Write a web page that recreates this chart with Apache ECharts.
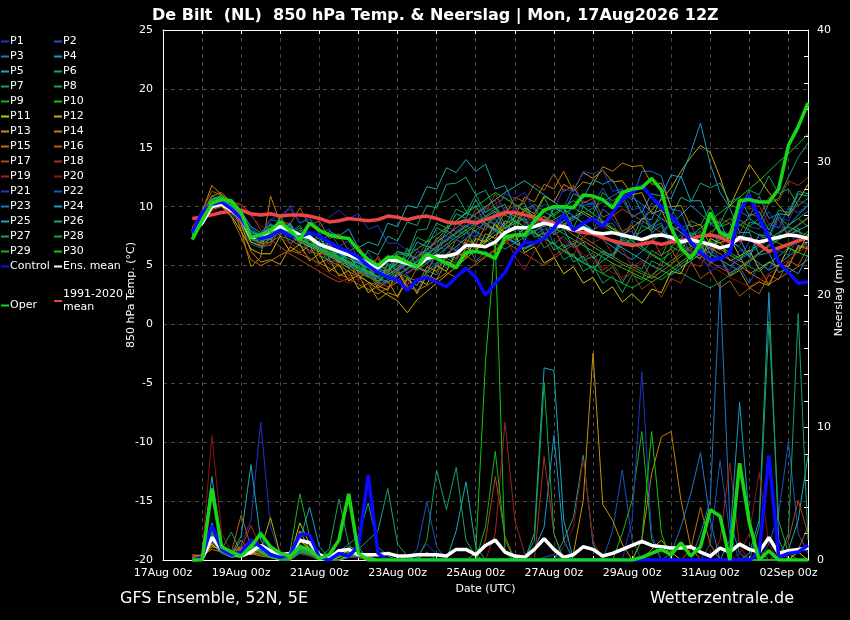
<!DOCTYPE html>
<html><head><meta charset="utf-8">
<script src="https://cdn.jsdelivr.net/npm/echarts@6/dist/echarts.min.js"></script>
<style>html,body{margin:0;padding:0;background:#000;}#c{width:850px;height:620px;}</style>
</head><body><div id="c"></div>
<script>
// ---- tick labels / time axis ----
const dateLabels = ['17Aug 00z','19Aug 00z','21Aug 00z','23Aug 00z','25Aug 00z','27Aug 00z','29Aug 00z','31Aug 00z','02Sep 00z'];
const firstLeadHour = 18;   // first step: 17Aug 18z (hours after 17Aug 00z)
const stepHours = 6;
const memberNames = ['P1','P2','P3','P4','P5','P6','P7','P8','P9','P10','P11','P12','P13','P14','P15','P16','P17','P18','P19','P20','P21','P22','P23','P24','P25','P26','P27','P28','P29','P30'];

// ---- main lines: 850 hPa temperature (°C) ----
const tOper = [7.2,8.8,10.3,10.6,10.5,9.5,7.4,7.6, 8.0,8.7,8.0,7.2, 8.6,8.0,7.6,7.4, 7.3,6.3,5.5,5.0, 5.7,5.7,5.3,4.9, 6.0,5.6,5.2,4.8, 6.1,6.2,6.0,5.6, 7.4,7.6,7.6,8.8, 9.7,10.0,10.0,9.9, 11.0,10.9,10.6,9.9, 11.2,11.5,11.6,12.4, 11.4,8.2,6.5,5.6, 6.9,9.5,7.8,7.4, 10.5,10.6,10.4,10.4, 11.5,15.2,16.8,18.8];
const tControl = [7.8,9.5,10.2,10.4,9.8,9.0,7.6,7.3, 7.5,8.0,7.5,7.4, 7.8,7.5,7.0,6.5, 6.2,5.7,5.0,4.4, 4.0,3.8,2.9,3.8, 4.0,3.6,3.2,4.0, 4.8,4.0,2.5,3.5, 4.4,6.0,7.0,6.9, 7.3,8.2,9.3,8.0, 8.6,9.0,8.3,9.5, 10.6,11.2,11.8,10.8, 10.0,9.2,8.3,7.0, 6.1,5.5,5.6,6.0, 9.5,11.0,9.0,7.4, 5.3,4.4,3.5,3.6];
const tMean = [7.9,8.6,10.0,10.2,9.7,9.0,7.4,7.4, 8.0,8.3,8.0,7.6, 7.4,6.8,6.5,6.2, 5.9,5.6,5.2,4.8, 5.5,5.4,5.2,4.9, 5.6,5.8,5.8,6.0, 6.7,6.7,6.6,7.0, 7.8,8.2,8.2,8.3, 8.6,8.4,8.3,8.0, 8.2,7.8,7.7,7.8, 7.6,7.4,7.2,7.5, 7.6,7.4,7.0,7.2, 7.0,6.8,6.5,6.7, 7.4,7.2,7.0,7.2, 7.4,7.6,7.5,7.3];
const tClim = [9.0,9.1,9.3,9.5,9.6,9.7,9.4,9.3, 9.4,9.2,9.3,9.3, 9.2,9.0,8.7,8.8, 9.0,8.9,8.8,8.9, 9.2,9.1,8.9,9.1, 9.2,9.0,8.7,8.6, 8.8,8.6,8.9,9.2, 9.5,9.5,9.3,9.1, 8.8,8.6,8.3,8.0, 7.8,7.7,7.4,7.1, 6.9,6.7,6.8,7.0, 6.8,7.0,7.1,7.3, 7.5,7.6,7.4,7.0, 7.2,7.3,6.8,6.2, 6.5,6.8,7.1,7.4];

// ---- main lines: precipitation (mm) ----
const pOper = [0,0,5.4,1.0,0.6,0.3,1.0,2.0,1.0,0.5, 0.3,1.0,0.8,0.1,0.4,1.5,5.0,0.5,0,0, 0,0,0,0,0,0,0,0,0,0, 0,0,0,0,0,0,0,0,0,0, 0,0,0,0,0,0,0.2,0.5,0.8,0.4, 1.3,0.3,1.0,3.8,3.3,0,7.3,2.8,0,0.7, 0,0,0,0];
const pControl = [0,0.2,2.6,0.8,0.4,0.6,1.5,1.0,0.4,0.2, 0.4,1.9,1.9,0.2,0,0.5,0.3,1.0,6.4,0.5, 0,0,0,0,0,0,0,0,0,0, 0,0,0,0,0,0,0,0,0,0, 0,0,0,0,0,0,0,0,0,0, 0,0,0,0,0,0,0,0,0.5,7.9, 0.2,0.5,0.6,1.1];
const pMean = [0,0.1,1.7,0.8,0.5,0.3,0.6,1.1,0.7,0.4, 0.5,1.5,1.3,0.4,0.1,0.7,0.8,0.4,0.4,0.4, 0.5,0.3,0.3,0.4,0.4,0.4,0.3,0.8,0.8,0.4, 1.1,1.5,0.6,0.3,0.2,0.8,1.6,0.8,0.2,0.4, 1.0,0.8,0.3,0.5,0.8,1.1,1.4,1.1,1.0,0.9, 0.9,1.0,0.6,0.3,0.9,0.6,1.2,0.8,0.6,1.7, 0.5,0.7,0.8,0.9];

// ---- members: temperature (°C) ----
const t01 = [7.8,9.2,10.5,10.8,10.2,9.6,8.2,7.5, 8.9,9.3,9.8,8.6, 8.9,8.2,9.1,9.7, 9.0,9.4,8.1,8.4, 6.9,6.9,6.3,6.4, 5.1,6.5,6.4,7.9, 7.7,8.0,6.8,8.3, 8.4,9.8,8.6,8.7, 7.4,8.8,8.7,10.2, 10.0,10.4,8.7,9.0, 7.8,7.9,6.5,7.8, 7.6,9.0,7.7,7.7, 6.2,6.5,5.4,6.8, 6.7,8.3,8.1,9.6, 8.2,8.2,6.5,6.6];
const t02 = [8.0,9.6,10.9,10.6,9.4,8.3,6.8,6.5, 6.8,8.3,6.9,7.5, 6.1,6.7,5.3,5.6, 4.9,5.5,4.1,4.7, 4.4,5.8,4.3,4.9, 4.5,6.1,4.7,6.4, 6.0,7.6,7.1,8.7, 8.4,10.1,9.6,10.0, 8.3,9.8,9.9,11.7, 10.1,10.3,8.5,8.6, 7.1,8.8,8.5,10.3, 9.7,10.0,8.2,8.5, 6.7,7.0,5.5,5.9, 5.4,7.1,6.8,8.5, 8.2,9.9,9.5,10.1];
const t03 = [7.6,8.9,10.2,10.4,9.9,9.1,7.6,6.9, 8.2,7.5,8.4,6.7, 7.6,5.9,6.7,5.2, 6.1,4.3,4.9,3.3, 5.1,3.5,4.2,2.7, 4.6,4.2,5.9,5.4, 7.0,5.4,6.2,5.7, 7.6,6.9,8.5,7.8, 8.6,6.8,7.5,6.6, 8.4,7.9,9.8,9.2, 11.1,10.6,13.0,13.0, 12.6,9.8,9.6,7.5, 7.9,6.0,8.0,7.6, 9.6,9.1,10.9,9.0, 9.4,7.5,8.2,6.4];
const t04 = [7.4,8.8,10.0,10.6,10.1,9.3,7.9,7.1, 7.4,7.9,8.2,7.7, 7.3,6.8,6.9,6.4, 5.8,5.4,5.0,4.6, 4.2,4.8,5.3,4.9, 4.5,5.2,6.0,6.6, 7.3,8.0,8.6,8.1, 7.5,7.0,6.5,6.9, 7.5,8.2,8.8,9.2, 8.6,7.9,7.2,6.6, 6.0,5.5,6.2,7.0, 7.8,8.5,9.3,10.1, 9.4,8.6,7.9,7.2, 6.5,5.8,5.2,4.6, 5.1,5.8,6.4,7.0];
const t05 = [7.9,9.1,10.4,10.9,10.5,9.6,8.3,7.8, 8.5,7.9,8.6,7.1, 7.7,6.4,7.9,7.5, 8.1,6.5,7.0,6.7, 8.6,8.3,10.1,9.9, 11.7,11.5,13.3,12.9, 14.0,13.0,13.6,11.5, 11.8,10.0,10.3,8.7, 9.2,7.6,8.1,6.5, 7.0,5.6,6.2,5.8, 7.5,7.3,9.0,8.9, 10.8,10.7,12.6,10.5, 10.5,8.6,8.7,6.9, 7.3,5.7,7.6,7.5, 9.4,9.3,11.1,10.9];
const t06 = [7.5,8.7,9.9,10.3,9.7,8.8,7.2,6.9, 7.5,8.0,7.7,7.2, 6.8,6.4,6.0,5.6, 5.2,4.6,4.2,4.8, 5.5,6.2,6.0,5.6, 6.3,7.2,8.1,8.8, 9.5,9.1,8.6,8.0, 7.4,6.9,6.4,6.8, 7.3,6.8,6.2,5.7, 5.2,4.8,5.4,6.0, 6.7,7.3,7.9,8.4, 9.0,8.4,7.8,7.2, 6.6,6.0,5.5,5.0, 4.6,5.3,6.0,6.8, 7.6,8.4,9.3,10.1];
const t07 = [7.7,9.0,10.6,11.0,10.4,9.5,7.8,7.6, 7.7,9.1,7.8,8.4, 7.1,7.5,6.0,6.5, 5.1,5.6,4.2,4.8, 4.4,6.0,5.9,8.0, 8.1,10.3,10.5,11.1, 9.6,10.1,8.5,9.0, 7.6,9.2,8.8,9.3, 7.7,8.1,6.5,6.9, 5.4,5.8,4.3,4.9, 3.5,5.1,4.7,6.3, 5.8,7.5,7.2,8.8, 8.4,10.0,8.3,8.6, 7.0,8.7,8.5,10.3, 10.7,12.5,14.2,15.4];
const t08 = [7.3,8.5,9.8,10.0,9.5,8.6,7.0,6.6, 7.0,7.5,7.2,6.7, 6.3,5.9,5.4,5.0, 4.5,4.1,3.6,3.3, 3.8,4.4,4.0,3.7, 4.3,5.0,5.6,5.2, 5.9,6.6,7.2,7.9, 8.5,9.1,9.7,10.2, 9.6,9.1,8.5,8.0, 7.4,6.9,6.3,5.8, 5.3,4.9,4.5,4.1, 3.8,4.4,5.1,5.7, 6.4,7.0,6.4,5.9, 5.4,4.9,4.5,5.2, 5.8,6.5,7.2,7.9];
const t09 = [8.1,9.4,10.7,10.9,10.2,9.2,7.5,7.3, 8.4,7.6,8.5,6.8, 7.6,6.0,6.9,5.3, 6.1,4.4,5.1,3.5, 5.2,4.6,6.5,4.9, 6.7,6.2,8.0,7.4, 8.1,6.4,7.2,6.6, 8.5,7.9,9.7,9.1, 10.8,9.2,9.9,8.2, 10.0,9.4,11.2,10.5, 11.0,9.1,9.6,7.8, 8.4,6.6,7.3,5.6, 6.3,5.7,7.6,7.1, 8.9,8.3,9.0,7.3, 9.1,8.4,9.0,8.3];
const t10 = [7.6,8.9,10.1,10.5,9.9,9.0,7.4,7.2, 7.7,8.4,8.0,7.5, 7.1,6.7,6.2,5.8, 5.3,4.8,4.4,4.0, 4.6,5.3,5.0,4.6, 5.2,5.8,6.5,7.2, 7.8,8.4,9.0,8.4, 7.8,7.2,7.7,8.3, 8.8,9.4,10.0,10.5, 10.0,9.4,8.8,8.2, 7.7,7.1,6.6,6.0, 5.5,6.1,6.8,7.5, 8.2,8.8,9.5,10.1, 10.8,11.5,12.2,13.0, 13.8,14.5,15.3,16.2];
const t11 = [8.0,9.3,10.3,10.1,9.2,7.9,6.4,6.0, 6.0,7.5,6.2,6.8, 5.4,6.0,4.5,5.1, 3.7,4.2,2.7,3.3, 2.9,4.5,3.1,3.8, 3.4,5.0,4.5,6.1, 5.7,7.3,7.0,8.6, 7.1,7.6,6.1,6.6, 5.2,5.7,4.3,4.9, 3.5,4.0,2.6,3.2, 1.9,2.6,1.8,3.0, 2.7,4.5,4.3,6.0, 5.6,7.3,6.9,7.4, 5.8,6.3,4.7,5.3, 4.9,6.5,6.1,7.7];
const t12 = [7.8,9.0,10.4,10.7,10.0,8.7,7.0,6.7, 7.3,7.9,7.5,7.0, 6.6,6.2,5.8,5.3, 4.8,4.2,3.6,3.0, 2.5,2.0,1.0,2.1, 2.8,3.5,4.2,4.9, 5.6,6.3,7.0,7.6, 8.2,8.8,8.3,7.8, 7.3,7.9,8.5,9.1, 9.6,9.1,8.6,8.1, 7.6,8.2,8.9,9.7, 10.6,11.6,13.0,14.2, 15.2,14.6,12.5,10.0, 11.8,13.6,12.4,11.2, 10.1,9.2,10.5,11.9];
const t13 = [7.5,9.6,11.8,11.0,10.0,8.5,6.2,5.3, 5.5,5.1,6.6,6.1, 6.7,5.2,5.6,4.1, 4.6,3.0,3.5,2.1, 2.7,2.4,4.0,2.6, 4.2,3.8,5.4,5.0, 6.5,6.1,7.7,7.3, 8.8,8.4,9.9,9.4, 10.9,10.4,11.9,11.4, 12.9,12.4,13.1,12.1, 12.2,11.0,11.2,9.4, 9.7,8.0,8.3,6.6, 6.9,5.3,5.7,4.1, 4.6,3.1,3.6,3.3, 5.1,4.9,6.7,6.5];
const t14 = [7.7,9.2,10.9,11.2,10.3,8.0,4.9,5.7, 10.9,8.6,7.7,7.4, 7.4,5.9,6.4,4.9, 5.4,3.9,4.5,3.1, 3.7,2.3,3.8,3.3, 4.9,4.5,6.0,5.6, 7.2,6.8,8.4,8.0, 9.6,9.2,10.8,10.4, 11.9,11.5,13.0,11.3, 12.1,11.9,13.4,13.0, 13.7,13.4,13.5,11.9, 12.0,10.0,10.1,8.3, 8.5,6.7,7.0,5.4, 5.8,4.3,4.8,3.4, 5.1,4.9,6.6,6.4];
const t15 = [7.6,8.8,9.8,10.0,9.1,7.4,5.5,5.0, 5.4,5.9,6.3,6.0, 5.6,5.2,4.8,4.3, 3.9,3.4,3.0,2.6, 3.1,3.6,3.2,2.9, 3.3,3.8,4.4,4.0, 4.6,5.1,5.7,6.3, 6.9,7.5,8.1,8.7, 9.2,8.7,8.2,7.6, 7.1,6.6,6.1,5.6, 5.1,4.7,4.3,3.9, 4.5,5.1,5.8,6.4, 7.0,6.5,6.0,5.5, 5.0,4.4,3.9,3.4, 3.9,4.4,4.9,5.5];
const t16 = [8.2,9.7,11.3,11.0,10.0,8.8,7.3,6.9, 7.0,8.8,8.5,9.9, 8.4,8.8,7.3,7.7, 6.2,6.7,5.1,5.6, 4.2,4.7,3.3,4.8, 4.4,6.0,5.6,7.2, 6.8,8.4,8.0,9.6, 9.2,10.8,10.4,11.9, 11.4,12.8,11.3,11.8, 10.3,10.7,9.1,9.5, 7.9,8.4,6.9,7.4, 5.9,6.4,4.9,5.4, 3.9,4.5,3.1,3.7, 2.4,3.1,2.6,4.2, 3.8,5.4,5.0,6.6];
const t17 = [7.9,9.0,10.2,10.5,10.4,10.2,9.4,8.0, 7.2,6.6,6.0,5.5, 5.0,4.5,4.0,3.6, 3.9,4.4,4.0,3.6, 3.2,3.8,4.4,5.0, 5.6,6.2,6.8,6.3, 5.8,5.3,5.8,6.4, 7.0,6.5,6.0,5.5, 5.0,5.6,6.2,6.8, 7.4,8.0,8.6,9.2, 9.8,9.3,8.8,8.3, 7.8,7.3,6.8,6.3, 5.8,5.3,4.8,4.4, 4.9,5.5,6.1,6.7, 7.3,7.9,8.5,9.1];
const t18 = [7.4,8.6,9.8,10.2,9.6,8.6,7.3,6.8, 6.7,8.2,6.8,7.4, 6.0,6.5,5.1,5.6, 4.1,4.7,4.2,5.8, 4.4,5.0,4.6,6.2, 5.8,7.4,7.0,8.6, 8.2,9.8,9.5,11.1, 9.6,10.1,8.6,9.1, 7.6,8.1,6.6,7.1, 5.6,6.1,4.6,5.2, 3.8,4.4,3.0,3.6, 2.3,3.9,3.5,5.2, 4.9,6.6,6.3,8.0, 7.7,9.4,9.1,10.8, 10.5,12.2,11.8,12.5];
const t19 = [8.3,9.5,10.5,10.6,10.0,9.1,7.7,7.3, 8.2,7.6,8.3,6.8, 7.3,5.8,6.4,4.9, 5.5,4.0,4.6,3.2, 4.7,4.3,5.9,5.5, 7.1,6.7,8.3,7.9, 8.6,9.4,9.9,10.6, 7.5,5.8,4.6,6.2, 7.3,5.8,6.4,5.9, 7.4,6.9,7.4,5.9, 6.4,4.9,5.4,3.9, 5.4,5.0,6.6,6.2, 7.8,7.4,9.0,8.6, 10.2,9.8,10.1,8.5, 8.9,7.4,7.9,6.5];
const t20 = [7.5,8.6,9.6,10.0,10.3,10.1,9.2,8.4, 7.9,7.4,6.9,6.3, 5.7,5.0,4.4,3.9, 3.5,3.9,3.4,3.0, 3.6,4.2,4.8,5.4, 6.0,6.6,7.2,7.8, 8.4,9.0,9.6,10.2, 10.8,10.2,9.6,9.0, 8.4,7.8,7.2,6.6, 6.0,5.4,4.9,4.4, 4.0,4.6,5.2,5.8, 6.4,7.0,6.5,6.0, 5.5,5.0,4.5,4.0, 3.6,3.2,3.7,4.3, 4.9,5.5,6.1,6.7];
const t21 = [7.8,9.1,10.3,10.6,10.0,9.3,7.7,7.5, 8.6,8.0,8.7,7.3, 7.9,6.5,7.1,5.8, 6.5,5.1,5.7,4.3, 5.9,4.5,5.1,4.7, 6.3,5.9,7.5,7.1, 8.7,8.3,9.9,9.5, 11.1,10.7,11.2,9.7, 10.2,9.8,11.5,11.3, 13.0,12.8,13.1,11.3, 11.5,9.7,10.0,8.3, 8.6,6.9,7.3,5.7, 6.1,4.5,5.0,4.6, 6.3,6.0,7.7,7.4, 9.1,8.8,10.5,10.2];
const t22 = [7.6,9.0,10.4,10.9,10.3,9.4,8.0,7.7, 8.9,8.7,10.1,8.6, 9.1,7.6,8.1,6.6, 7.1,5.6,6.1,4.7, 5.2,4.7,6.3,4.9, 5.5,5.0,6.6,6.2, 7.8,7.4,9.0,8.5, 10.0,8.6,9.1,7.6, 8.1,7.7,9.3,8.9, 10.5,10.1,11.6,10.1, 10.6,9.1,9.6,8.1, 8.6,7.1,7.6,6.1, 6.6,5.1,5.7,4.3, 4.9,3.5,5.1,4.7, 6.3,5.9,7.5,7.1];
const t23 = [8.0,9.2,10.1,10.3,9.8,8.9,7.3,7.0, 7.5,7.9,7.5,7.1, 6.7,6.3,5.9,5.5, 5.1,4.7,4.3,3.9, 3.5,4.1,4.7,5.3, 5.9,6.5,7.1,7.7, 8.3,8.9,8.4,7.9, 7.4,6.9,6.4,6.9, 7.4,7.9,8.4,8.9, 9.4,9.9,10.4,10.9, 11.4,10.8,10.2,9.6, 9.0,8.4,7.8,7.2, 6.6,6.0,5.5,5.0, 5.5,6.0,6.6,7.2, 7.8,8.4,9.0,9.6];
const t24 = [7.5,8.8,10.2,10.6,10.0,9.2,7.8,7.3, 7.2,8.7,7.4,8.0, 6.6,7.1,5.6,6.2, 4.8,5.4,4.0,4.6, 4.2,5.8,5.4,7.0, 6.6,8.2,7.8,9.4, 9.0,10.6,9.1,9.6, 8.1,8.6,7.1,8.7, 8.3,9.9,9.5,11.1, 10.7,12.3,11.9,12.3, 10.7,11.1,9.5,11.1, 10.9,12.7,12.5,14.6, 17.1,13.6,11.2,9.9, 7.8,7.8,5.9,6.1, 4.4,4.8,4.3,5.9];
const t25 = [7.7,9.0,10.3,10.6,10.1,9.2,7.6,7.3, 7.9,8.4,8.1,7.6, 7.2,6.8,6.4,6.0, 5.6,5.2,4.8,4.4, 4.0,4.6,5.2,5.8, 6.4,7.0,7.6,8.2, 8.8,9.4,10.0,10.6, 11.2,11.7,12.2,11.6, 11.0,10.4,9.8,9.2, 8.6,8.0,7.5,7.0, 6.5,6.0,5.5,5.0, 4.6,4.2,4.8,5.4, 6.0,6.6,7.2,7.8, 8.4,9.0,8.4,7.8, 7.2,7.6,8.0,8.4];
const t26 = [7.9,9.2,10.5,10.8,10.2,9.3,7.8,7.5, 8.5,7.9,8.5,7.1, 7.7,6.3,6.9,5.5, 6.1,4.8,6.3,5.9, 7.5,7.1,8.7,8.4, 10.1,9.9,11.9,12.0, 12.5,11.0,11.4,9.8, 10.2,8.6,9.0,7.4, 7.8,6.3,6.8,5.3, 5.8,4.4,6.0,5.6, 7.2,6.8,8.4,8.0, 9.6,9.2,10.8,10.4, 12.0,11.6,12.0,10.4, 10.8,9.2,9.6,8.0, 9.7,9.5,11.3,11.1];
const t27 = [7.4,8.7,10.0,10.4,9.8,8.9,7.3,7.0, 7.5,8.0,7.6,7.2, 6.8,6.4,6.0,5.6, 5.2,4.8,4.4,4.0, 3.6,4.2,4.8,5.4, 6.0,6.6,7.2,7.8, 8.4,7.9,7.4,6.9, 6.4,6.9,7.4,7.9, 8.4,8.9,9.4,9.9, 9.4,8.9,8.4,7.9, 7.4,6.9,6.4,5.9, 5.4,4.9,4.4,3.9, 3.5,3.1,3.6,4.2, 4.8,5.4,6.0,6.6, 7.2,7.8,8.4,9.0];
const t28 = [7.8,9.1,10.5,10.9,10.3,9.4,7.9,7.6, 7.6,9.1,7.7,8.2, 6.8,7.4,6.0,6.6, 5.2,5.8,4.4,5.0, 4.6,6.2,5.8,7.4, 7.0,8.6,8.2,9.8, 9.4,11.0,9.5,10.0, 8.5,9.0,7.5,8.0, 6.5,7.0,5.5,6.0, 4.5,5.0,3.5,4.1, 2.7,4.2,3.8,5.4, 5.0,6.6,6.2,7.8, 7.4,9.0,8.6,10.2, 9.8,11.4,11.0,12.6, 11.1,11.5,10.1,10.7];
const t29 = [8.0,9.3,10.6,10.9,10.2,9.2,7.6,7.2, 7.7,8.1,7.7,7.2, 6.8,6.3,5.9,5.4, 5.0,4.5,4.1,3.7, 4.2,4.8,5.4,5.0, 5.6,6.2,6.8,7.4, 8.0,8.6,9.2,9.8, 9.3,8.8,8.3,7.8, 7.3,6.8,6.3,5.8, 5.3,4.8,4.3,3.9, 3.5,3.1,3.6,4.2, 4.8,5.4,6.0,6.6, 7.2,7.8,8.4,9.0, 8.5,8.0,7.6,7.2, 7.8,8.3,7.9,7.5];
const t30 = [7.6,8.9,10.2,10.6,10.0,9.1,7.5,7.2, 7.7,8.2,7.8,7.3, 6.9,6.5,6.1,5.7, 5.3,4.9,4.5,4.1, 4.6,5.2,5.8,6.4, 7.0,7.6,8.2,8.8, 9.4,10.0,10.6,11.2, 10.7,10.2,9.7,9.2, 8.7,8.2,7.7,7.2, 6.7,6.2,5.7,5.2, 4.8,4.4,4.0,3.6, 4.1,4.7,5.3,5.9, 6.5,7.1,6.6,6.1, 5.6,6.2,6.8,7.3, 6.9,6.5,6.1,5.8];

// ---- members: precipitation (mm) ----
const p01 = [0,0.2,2.1,0.8,0.3,1.2,3.0,10.4,2.5,0.4, 0,0.5,1.0,0.3,0,0,0.4,0.2,0,0, 0,0,0,0.3,1.2,0.4,0,0,0,0, 0,0,0,0,0.5,0,0,0,0,0, 0,0,0,0,0,0,0.3,0,0,0, 0,0,0,0,0,0,0,0,0,0, 0,0,0,0];
const p02 = [0,0.1,1.5,0.6,0.2,0.4,1.0,2.2,0.6,0.2, 0,0.8,0.5,0.1,0,0,0.3,0.6,0.4,0, 0,0,0,0,0,0,0,0,0,0, 0,0,0,0,0,0,0.2,0.4,0,0, 0,0,0,2.2,6.8,1.5,0,0,0,0, 0,0,0,0,0,0,0,0,0,1.2, 3.5,8.9,2.0,0.5];
const p03 = [0,0,2.8,1.0,0.4,0.6,1.4,0.8,0.3,0, 0,1.2,0.6,0.2,0,0.3,0.8,0.4,0,0, 0,0,0.4,0.2,0,0,0,0,0,0, 0,0,0,0,0,0,0,0,0,0, 0,0,0,0,0,0,0,0,0,0, 0,0,2.0,4.5,21.0,3.0,0.5,0,0,0, 0,0,0,0];
const p04 = [0,0,1.8,0.7,0.2,0.5,0.9,0.5,0.2,0, 0,0.6,0.8,0.2,0,0,0.2,0.5,0.3,0, 0,0,0,0,0,0,0,0,0,0, 0,0,0,0,0,0.8,2.5,9.4,1.5,0, 0,0,0,0,0,0,0,0,0,0, 0,0,0,0,0,0,0,0.5,3.0,20.2, 1.5,0,0,0];
const p05 = [0,0.3,6.3,1.2,0.4,0.8,1.6,0.6,0.2,0, 0.2,1.5,0.9,0.3,0,0,0.5,0.4,0.2,0, 0,0,0,0,0.6,0,0,2.2,5.9,1.0, 0,0,0,0,0,0,0,0,0,0, 0,0,0,0,0,0,0,0,0,0, 0,0,0,0,0,0,0,0,0,0, 0,0.8,3.0,7.9];
const p06 = [0,0,1.2,0.5,0.2,0.3,0.8,1.1,0.3,0, 0,0.7,0.4,0.1,0,0.6,1.2,1.8,4.3,1.0, 0.3,0,0,0,0,0,0,0,0,0, 0,0,0,0,0,0,0,0,1.5,3.2, 7.9,1.2,0,0,0,0,0,0,0,0, 0,0,0,0,0,0,0,0,0,0, 0,0,0,0];
const p07 = [0,0.2,2.4,0.9,0.6,0.4,1.2,0.7,0.3,0, 0,1.0,0.6,0.2,0,0,0.2,0.3,0,0, 0,0,0.3,0,1.5,6.8,3.8,7.0,1.5,0.3, 0,0,0,0,0,0,0,0,0,0, 0,0,0,0,0,0,0,0,0,0, 0,0,0,0,0,0,0,0,0.8,0, 0,0,0,0];
const p08 = [0,0.1,1.6,0.8,2.1,0.5,0.6,0.4,0.2,0, 0,0.5,0.3,0,0,0.4,0.6,0.2,0,0, 0,0,0,0,0,0,0,0,0,0, 0,0,0,0,0,0,0,0,0,0, 0,0,0,0,0,0,0,0,0,0, 0,0,0,0,0,0,0,0,2.5,18.0, 3.0,0.5,0,0];
const p09 = [0,0,2.0,0.7,0.3,0.2,0.9,0.5,0.2,0.1, 0.6,5.0,1.8,0.4,0,0,0.3,0.5,0.2,0, 0,0,0,0,0,0,0,0,0,0, 0,0,0,0,0,0,0,0,0,0, 0,0,0,0,2.0,4.5,9.7,1.6,0,0, 0,0,0,0,0,0,0,0,0,0, 0,0,0,0];
const p10 = [0,0.2,2.5,0.9,0.3,0.5,1.1,0.6,0.2,0, 0,0.9,0.7,0.2,0,0,0.4,0.3,0,0, 0,0,0,0,0,0,0,0,0,0.5, 15.0,24.0,0.5,0,0,0,0,0,0,0, 0,0,0,0,0,0,0,0,0,0, 0,0,0,0,0,0,0,0,0,0, 0,0,0,0];
const p11 = [0.1,0.3,1.2,0.6,0.4,0.8,0.5,0.6,0.9,0.3, 0.2,2.8,1.2,0.3,0,0.2,0.8,0.5,0,0, 0,0,0,0,0,0,0,0,0,0, 0,0,0,0,0,0,0,0,0,0, 0,0,0,0,0,0,0,0,0,0, 0,0,0,0,0,0,0,0,0,0, 0,0,0.6,0];
const p12 = [0.2,0.2,1.0,0.8,0.5,0.6,0.4,0.8,3.2,0.4, 0.1,2.2,0.8,0.2,0,0,0.3,0.2,0,0, 0,0,0,0,0,0,0,0,0,0, 0,0,0,0,0,0,0,0,0,0, 0,0,0,0,0,0,0,0.8,1.5,0.6, 0,0,0,0,0,0,0,0,0,0, 0,0,0,0];
const p13 = [0.3,0.4,1.5,0.9,0.6,1.0,0.5,0.3,0.2,0, 0,1.6,0.7,0.2,0,0.2,0.5,0.3,0,0, 0,0,0,0,0,0,0,0,0,0, 0,0,0,0,0,0,0,0,0,0.5, 4.5,15.6,4.2,3.0,1.2,0,0,0,0,0, 0,0,0,0,0,0,0,0,0,0, 0,0,0,0];
const p14 = [0.2,0.3,1.1,0.7,0.4,1.5,0.6,0.4,0.2,0, 0,1.4,0.9,0.3,0,0,0.4,0.5,0.2,0, 0,0,0,0,0,0,0,0,0,0, 0,0,0,0,0,0,0,0,0,0, 0,0,0,0,0,0,1.5,6.5,9.3,9.7, 4.5,1.0,0,0,0,0,0,0,0,0, 0,0,0,0];
const p15 = [0.4,0.3,0.8,0.6,0.5,0.9,0.7,0.5,0.3,0.1, 0,1.1,0.6,0.2,0,0,0.3,0.4,0.2,0, 0,0,0,0,0,0,0,0,0,0, 0,0,0,0,0,0,0,0,0,0, 0,0,0,0,0,0,0,0,0,0, 0,0.8,4.0,1.2,0,0,0,0,0,0, 0,0,0,0];
const p16 = [0.2,0.3,1.3,0.8,0.6,3.4,1.0,0.6,0.3,0, 0,0.9,0.5,0.2,0,0,0.2,0.3,0,0, 0,0,0,0,0,0,0,0,0,0, 0,0,0,0,0,0,0,0,0,0, 0,0,0,0,0,0,0,0,0,0, 0,0,0,0,0,0,0,0,0,0, 0,0,0.8,2.5];
const p17 = [0.1,0.2,2.2,0.8,0.4,0.7,1.0,0.5,0.2,0, 0,0.8,0.5,0.2,0,0,0.2,0.3,0,0, 0,0,0,0,0,0,0,0,0,0, 1.5,6.3,1.8,0,0,0,0,0,0,0, 0,0,0,0,0,0,0,0,0,0, 0,0,0,0,0,0,0,0,0,0, 0.5,1.5,4.5,2.0];
const p18 = [0,0.1,1.8,0.6,0.5,0.9,2.6,0.9,0.3,0, 0,0.6,0.4,0.1,0,0,0.3,0.2,0,0, 0,0,0,0,0,0,0,0,0,0, 0,0,0,0,0,0,7.8,2.0,0,0, 0,0,0,0,0,0,0,0,0,0, 0,0,0,0,0,0,0,0,0,0, 0,0,0,0];
const p19 = [0,0.1,2.6,0.7,0.3,0.5,0.8,0.4,0.2,0, 0,0.7,0.4,0.1,0,0,0.2,0.3,0,0, 0,0,0,0,0,0,0,0,0,0, 0,2.0,10.4,3.0,0.5,0,0,0,0,0, 0,0,0,0,0,0,0,0,0,0, 0,0,0,0,1.5,7.3,1.0,0,0,0, 0,0,0,0];
const p20 = [0,0.3,9.4,2.0,0.6,0.4,0.8,0.5,0.2,0, 0,0.6,0.3,0.1,0,0,0.2,0.2,0,0, 0,0,0,0,0,0,0,0,0,0, 0,0,0,0,0,0,0,0,1.0,2.5, 7.6,1.5,0,0,0,0,0,0,0,0, 0,0,0,0,0,0,0.5,2.0,6.6,1.2, 0,0,0,0];
const p21 = [0,0.1,1.9,0.9,0.3,0.6,1.3,1.8,0.5,0, 0,1.0,0.5,0.2,0,0,0.3,0.4,0,0, 0,0,0,0,0,0,0,0,0,0, 0,0,0,0,0,0,0,0,0,0, 0,0,0,0,0,3.0,14.2,2.0,0,0, 0,0,0,0,0,0,0,0,0,0, 0,0,0,0];
const p22 = [0,0.2,1.6,0.7,0.3,0.4,1.0,0.7,0.2,0, 0,0.9,0.6,0.2,0,0,0.3,0.4,0,0, 0,0,0,0.8,4.4,1.0,0,0,0,0, 0,0,0,0,0,0,0,0,0,0, 0,0,0,0,0,0,0,0,0,0, 0,0,0,1.2,7.5,2.0,0,0,0,0, 0,0,0,0];
const p23 = [0,0.1,1.4,0.6,0.3,0.5,1.1,0.6,0.2,0, 0,0.8,0.5,0.2,0,0,0.2,0.3,0,0, 0,0,0,0,0,0,0,0,0,0, 0,0,0,0,0,0,0,0,0,0, 0,0,0,0,0,0,0,0,0,0.5, 2.5,5.0,8.1,3.0,0,0,0,0,0,0, 0,0,0,0];
const p24 = [0,0.2,2.3,0.9,0.4,0.6,1.2,0.7,0.3,0.1, 0.5,1.5,4.0,1.0,0.2,0,0.3,0.4,0,0, 0,0,0,0,0,0,0,0,0,0, 0,0,0,0,0,0,0,0,0,0, 0,0,0,0,0,0,0,0,0,0, 0,0,0,0,0,1.5,11.9,3.0,0,0, 0,0,0,0];
const p25 = [0,0.2,2.7,1.0,0.5,1.8,7.2,1.5,0.4,0, 0,0.8,0.5,0.2,0,0,0.3,0.4,0,0, 0,0,0,0,0,0,0,0,0,0, 0,0,0,0,0,2.0,14.5,14.3,3.0,0, 0,0,0,0,0,0,0,0,0,0, 0,0,0,0,0,0,0,0,0,0, 0,0,0,0];
const p26 = [0,0.1,1.7,0.8,0.3,0.5,1.0,0.6,0.2,0, 0,0.7,0.5,0.2,0,0.4,1.0,0.8,1.5,2.2, 5.4,1.2,0.3,0,0,0,0,0,0,0, 0,0,0,0,0,0,0,0,0,0, 0,0,0,0,0,0,0,0,0,0, 0,0,0,0,0,0,0,0,0,0, 0,0,0,0];
const p27 = [0,0,1.5,0.6,0.3,0.4,0.9,0.5,0.2,0, 0,0.6,0.4,0.2,0.8,4.6,1.2,0.3,0,0, 0,0,0,0,0,0,0,0,0,0, 0,0,0,0,0,0,0,0,0,0, 0,0,0,0,0,0,0,0,0,0, 0,0,0,0,0,0,0,0,0,0, 0,2.0,18.6,1.5];
const p28 = [0,0.2,2.0,0.8,0.3,0.5,1.2,0.7,0.2,0, 0,0.8,0.5,0.2,0,1.5,4.8,1.0,0,0, 0,0,0,0,0,0,0,0,0,0, 0,0,0,0,0,1.5,13.4,2.0,0,0, 0,0,0,0,0,0,0,0,0,0, 0,0,0,0,0,0,0,0,0,0, 0,0,0,0];
const p29 = [0,0.1,1.8,0.7,0.4,0.5,1.0,0.6,0.2,0, 0,0.9,0.6,0.2,0,0,0.3,0.4,0,0, 0,0,0,0,0,0,0,0,0,0, 2.5,8.2,1.5,0,0,0,0,0,0,0, 0,0,0,0,0,0,0,0,0,0, 0,0,0,0,0,0,0,0,0,0, 0,0,0,0];
const p30 = [0,0.2,2.2,0.9,0.4,0.6,1.1,0.6,0.2,0, 0,1.0,0.6,0.2,0,0,0.3,0.4,0,0, 0,0,0,0,0,0,0,0,0,0, 0,0,0,0,0,0,0,0,0,0, 0,0,0,0,0,0,1.5,9.7,2.0,0, 0,0,0,0,0,0,0,0,0,0, 0,0,0,0];

// ---- styles ----
const memberColors = ['#2434c4','#1a55b8','#1a78c8','#1a98c8','#18aab4','#18a284','#18a062','#18a444','#18b41e','#14c414',
  '#c8c400','#c8aa00','#c89400','#c48000','#c06c08','#b45a10','#b0461a','#a4341a','#a02222','#8e1414',
  '#2434c4','#1a55b8','#1a78c8','#1a98c8','#18aab4','#18a284','#18a062','#18a444','#18b41e','#14c414'];
const tMembers = [t01,t02,t03,t04,t05,t06,t07,t08,t09,t10,t11,t12,t13,t14,t15,t16,t17,t18,t19,t20,t21,t22,t23,t24,t25,t26,t27,t28,t29,t30];
const pMembers = [p01,p02,p03,p04,p05,p06,p07,p08,p09,p10,p11,p12,p13,p14,p15,p16,p17,p18,p19,p20,p21,p22,p23,p24,p25,p26,p27,p28,p29,p30];

const hours = tMean.map((_, i) => firstLeadHour + stepHours * i);
const pairs = arr => arr.map((v, i) => [hours[i], v]);
const FONT = 'DejaVu Sans';

const series = [];
memberNames.forEach((nm, k) => {
  const c = memberColors[k];
  series.push({ name: nm, type: 'line', yAxisIndex: 0, data: pairs(tMembers[k]), symbol: 'none', z: 2,
    lineStyle: { width: 1, color: c }, itemStyle: { color: c } });
  series.push({ name: nm, type: 'line', yAxisIndex: 1, data: pairs(pMembers[k]), symbol: 'none', z: 2,
    lineStyle: { width: 1, color: c }, itemStyle: { color: c } });
});
const mainLine = (name, data, axis, color, z) => ({ name, type: 'line', yAxisIndex: axis, data: pairs(data), symbol: 'none', z,
  lineStyle: { width: 3.5, color }, itemStyle: { color } });
series.push(mainLine('1991-2020 mean', tClim, 0, '#ee4646', 3));
series.push(mainLine('Ens. mean', tMean, 0, '#ffffff', 4));
series.push(mainLine('Ens. mean', pMean, 1, '#ffffff', 4));
series.push(mainLine('Control', tControl, 0, '#0a0aff', 5));
series.push(mainLine('Control', pControl, 1, '#0a0aff', 5));
series.push(mainLine('Oper', tOper, 0, '#16d616', 6));
series.push(mainLine('Oper', pOper, 1, '#16d616', 6));

const legendBase = { orient: 'vertical', icon: 'rect', itemWidth: 8, itemHeight: 2, itemGap: 2, padding: 0,
  textStyle: { color: '#fff', fontSize: 11, fontFamily: FONT, lineHeight: 13, padding: [0, 0, 0, -4] }, inactiveColor: '#555' };

const chart = echarts.init(document.getElementById('c'), null, { renderer: 'canvas' });
chart.setOption({
  backgroundColor: '#000',
  animation: false,
  title: { text: 'De Bilt  (NL)  850 hPa Temp. & Neerslag | Mon, 17Aug2026 12Z', left: 147, top: 3,
    textStyle: { color: '#fff', fontSize: 16, fontWeight: 'bold', fontFamily: FONT } },
  legend: [
    Object.assign({}, legendBase, { left: 1, top: 35, data: memberNames.filter((_, k) => k % 2 === 0).concat(['Control']) }),
    Object.assign({}, legendBase, { left: 54, top: 35, data: memberNames.filter((_, k) => k % 2 === 1).concat(['Ens. mean']) }),
    Object.assign({}, legendBase, { left: 1, top: 299, data: ['Oper'] }),
    Object.assign({}, legendBase, { left: 54, top: 288, data: ['1991-2020 mean'], formatter: () => '1991-2020\nmean' })
  ],
  grid: { left: 163, right: 42, top: 30, bottom: 60, containLabel: false, outerBoundsMode: 'none' },
  xAxis: [
    { type: 'value', min: 0, max: 396, interval: 24, position: 'bottom',
      axisLine: { show: true, onZero: false, lineStyle: { color: '#fff', width: 1 } },
      axisTick: { show: true, inside: true, length: 4, lineStyle: { color: '#fff' } },
      axisLabel: { color: '#fff', fontSize: 11, fontFamily: FONT, margin: 8, showMaxLabel: false,
        formatter: v => (v % 48 === 0 && v / 48 < dateLabels.length) ? dateLabels[v / 48] : '' },
      splitLine: { show: true, lineStyle: { color: '#454545', width: 1, type: [4, 4] } },
      name: 'Date (UTC)', nameLocation: 'middle', nameGap: 24, nameMoveOverlap: false,
      nameTextStyle: { color: '#fff', fontSize: 11, fontFamily: FONT } },
    { type: 'value', min: 0, max: 396, interval: 24, position: 'top',
      axisLine: { show: true, onZero: false, lineStyle: { color: '#fff', width: 1 } },
      axisTick: { show: true, inside: true, length: 4, lineStyle: { color: '#fff' } },
      axisLabel: { show: false }, splitLine: { show: false } }
  ],
  yAxis: [
    { type: 'value', min: -20, max: 25, interval: 5, position: 'left',
      axisLine: { show: true, onZero: false, lineStyle: { color: '#fff', width: 1 } },
      axisTick: { show: false },
      axisLabel: { color: '#fff', fontSize: 11, fontFamily: FONT, margin: 10 },
      splitLine: { show: true, lineStyle: { color: '#454545', width: 1, type: [4, 4] } },
      name: '850 hPa Temp. (°C)', nameLocation: 'middle', nameGap: 26, nameRotate: 90, nameMoveOverlap: false,
      nameTextStyle: { color: '#fff', fontSize: 11, fontFamily: FONT } },
    { type: 'value', min: 0, max: 40, interval: 10, position: 'right',
      axisLine: { show: true, onZero: false, lineStyle: { color: '#fff', width: 1 } },
      axisTick: { show: true, inside: true, length: 4, lineStyle: { color: '#fff' } },
      minorTick: { show: true, splitNumber: 5, length: 4, lineStyle: { color: '#fff' } },
      axisLabel: { color: '#fff', fontSize: 11, fontFamily: FONT, margin: 9 },
      splitLine: { show: false },
      name: 'Neerslag (mm)', nameLocation: 'middle', nameGap: 26, nameRotate: 90, nameMoveOverlap: false,
      nameTextStyle: { color: '#fff', fontSize: 11, fontFamily: FONT } }
  ],
  graphic: [
    { type: 'text', left: 120, top: 591, style: { text: 'GFS Ensemble, 52N, 5E', fill: '#fff', font: '16px "DejaVu Sans"' } },
    { type: 'text', right: 56, top: 591, style: { text: 'Wetterzentrale.de', fill: '#fff', font: '16px "DejaVu Sans"' } }
  ],
  series
});
</script>
</body></html>
